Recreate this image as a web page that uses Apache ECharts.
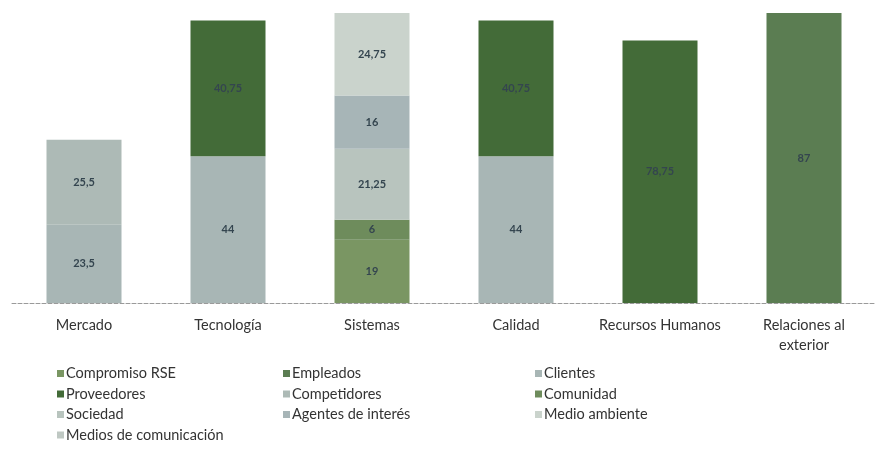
<!DOCTYPE html>
<html>
<head>
<meta charset="utf-8">
<script src="https://cdn.jsdelivr.net/npm/echarts@6/dist/echarts.min.js"></script>
<style>html,body{margin:0;padding:0;background:#fff;}#c{width:876px;height:451px;}</style>
</head>
<body>
<div id="c"></div>
<script>
var categories = ['Mercado', 'Tecnología', 'Sistemas', 'Calidad', 'Recursos Humanos', 'Relaciones al\nexterior'];
var seriesNames = ['Compromiso RSE', 'Empleados', 'Clientes', 'Proveedores', 'Competidores', 'Comunidad', 'Sociedad', 'Agentes de interés', 'Medio ambiente', 'Medios de comunicación'];
var compromisoRSE = [null, null, 19, null, null, null];
var empleados = [null, null, null, null, null, 87];
var clientes = [23.5, 44, null, 44, null, null];
var proveedores = [null, 40.75, null, 40.75, 78.75, null];
var competidores = [25.5, null, null, null, null, null];
var comunidad = [null, null, 6, null, null, null];
var sociedad = [null, null, 21.25, null, null, null];
var agentes = [null, null, 16, null, null, null];
var medioAmbiente = [null, null, 24.75, null, null, null];
var medios = [null, null, null, null, null, null];
var values = [compromisoRSE, empleados, clientes, proveedores, competidores, comunidad, sociedad, agentes, medioAmbiente, medios];
var colors = ['#7a9663', '#5b7d52', '#a8b6b5', '#436b38', '#adbab6', '#6e8c5c', '#b8c4be', '#a7b5b7', '#cad3cc', '#bfc8c3'];

var chart = echarts.init(document.getElementById('c'));
var series = seriesNames.map(function (n, i) {
  return {
    name: n, type: 'bar', stack: 'total', barWidth: 75,
    data: values[i],
    itemStyle: { color: colors[i] },
    label: { show: true, position: 'inside', fontSize: 11, fontFamily: 'Lato', fontWeight: 'bold', color: '#34454f',
      formatter: function (p) { return p.value == null ? '' : String(p.value).replace('.', ','); } }
  };
});
function legend(left, names) {
  return {
    orient: 'vertical', left: left, top: 366, height: 85, padding: 0, itemWidth: 7, itemHeight: 7, itemGap: 5.5,
    icon: 'rect', data: names,
    textStyle: { fontSize: 14.5, lineHeight: 15, fontFamily: 'Lato', color: '#333', padding: [0, 0, 0, -3] }
  };
}
chart.setOption({
  animation: false,
  color: colors,
  grid: { left: 12, right: -10, top: 3, bottom: 148 },
  legend: [
    legend(57, ['Compromiso RSE', 'Proveedores', 'Sociedad', 'Medios de comunicación']),
    legend(283, ['Empleados', 'Competidores', 'Agentes de interés']),
    legend(535, ['Clientes', 'Comunidad', 'Medio ambiente'])
  ],
  xAxis: {
    type: 'category', data: categories,
    axisLine: { lineStyle: { color: '#9a9a9a', type: 'dashed', width: 1 } },
    axisTick: { show: false },
    axisLabel: { fontSize: 14.5, fontFamily: 'Lato', color: '#333', margin: 12, lineHeight: 20, interval: 0 }
  },
  yAxis: { type: 'value', min: 0, max: 90, show: false, splitLine: { show: false } },
  series: series
});
</script>
</body>
</html>
